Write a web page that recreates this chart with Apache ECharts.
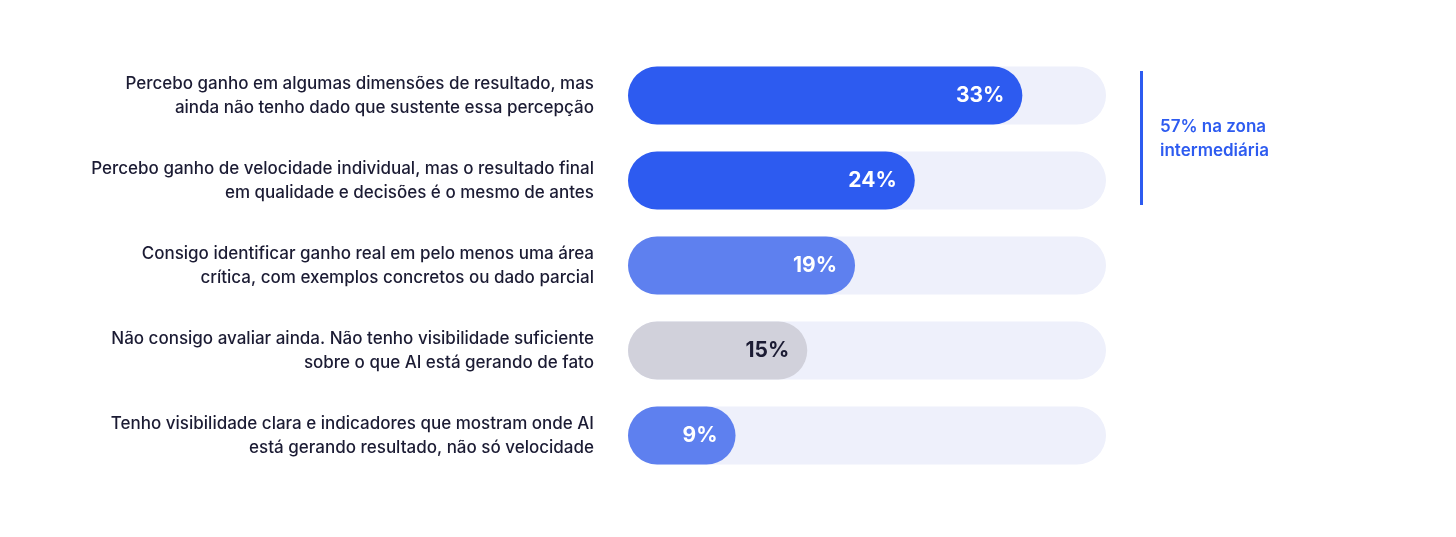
<!DOCTYPE html>
<html><head><meta charset="utf-8">
<script src="https://cdn.jsdelivr.net/npm/echarts@6/dist/echarts.min.js"></script>
<style>html,body{margin:0;background:#fff}#c{width:1456px;height:537px}</style>
</head><body><div id="c"></div>
<script>
const categories = [
 "Percebo ganho em algumas dimensões de resultado, mas\nainda não tenho dado que sustente essa percepção",
 "Percebo ganho de velocidade individual, mas o resultado final\nem qualidade e decisões é o mesmo de antes",
 "Consigo identificar ganho real em pelo menos uma área\ncrítica, com exemplos concretos ou dado parcial",
 "Não consigo avaliar ainda. Não tenho visibilidade suficiente\nsobre o que AI está gerando de fato",
 "Tenho visibilidade clara e indicadores que mostram onde AI\nestá gerando resultado, não só velocidade"
];
const values = [33, 24, 19, 15, 9];
const barColors = ["#2D5BF0", "#2D5BF0", "#5E80EF", "#D1D1DB", "#5E80EF"];
const labelColors = ["#fff", "#fff", "#fff", "#1B1B33", "#fff"];
const annotation = "57% na zona\nintermediária";
const chart = echarts.init(document.getElementById('c'));
chart.setOption({
  animation:false,
  grid:{left:628, width:478, top:53, height:425},
  xAxis:{type:'value', min:0, max:40, show:false},
  yAxis:{type:'category', data:categories, inverse:true,
    axisLine:{show:false}, axisTick:{show:false},
    axisLabel:{margin:34, align:'right', fontFamily:'Inter', fontSize:17, fontWeight:500, lineHeight:24, color:'#1B1B33'}},
  series:[{type:'bar', barWidth:58,
    data: values.map((v,i)=>({value:v, itemStyle:{color:barColors[i]}, label:{color:labelColors[i]}})),
    itemStyle:{borderRadius:29},
    showBackground:true, backgroundStyle:{color:'#EEF0FB', borderRadius:29},
    label:{show:true, position:'insideRight', distance:18, formatter:'{c}%', fontFamily:'Inter', fontSize:21, fontWeight:'bold'}
  }],
  graphic:[
    {type:'rect', shape:{x:1140, y:71, width:3, height:134}, style:{fill:'#2D5BF0'}},
    {type:'text', left:1160, top:115, style:{text:annotation, fill:'#2D5BF0', font:'600 17px Inter', lineHeight:24}}
  ]
});
</script></body></html>
